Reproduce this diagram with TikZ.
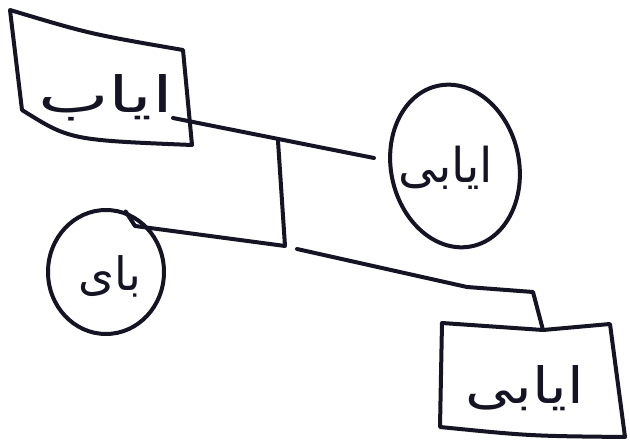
\documentclass[tikz,border=0pt]{standalone}
\usepackage{fontspec}
\newfontfamily\arabicfont[Script=Arabic]{DejaVu Sans}
\TeXXeTstate=1
\usetikzlibrary{shapes.geometric}
\definecolor{ink}{RGB}{20,20,36}
\begin{document}
\begin{tikzpicture}[x=1pt,y=-1pt,
  pen/.style={draw=ink,line width=4pt,line join=round,line cap=round},
  lbl/.style={text=ink,font=\arabicfont\fontsize{50}{54}\selectfont,inner sep=0pt},
  ring/.style={pen,ellipse,inner sep=0pt}]
\useasboundingbox (0,0) rectangle (630,446);
\fill[white] (0,0) rectangle (630,446);
% box A (top left)
\coordinate (a1) at (10,10);
\coordinate (a2) at (183,50);
\coordinate (a3) at (192,145);
\coordinate (a4) at (22,110);
\draw[pen] (a1) .. controls (90,34) .. (a2) -- (a3) .. controls (70,140) .. (a4) -- cycle;
\node[lbl,xscale=1.5] (tA) at (106,98) {\beginR ایاب\endR};
% circle B (right)
\node[ring,minimum width=128pt,minimum height=164pt,rotate=12] (B) at (455,166) {};
\node[lbl,font=\arabicfont\fontsize{48}{52}\selectfont] (tB) at (446,168) {\beginR ایابی\endR};
% circle C (bottom left)
\node[ring,minimum width=116pt,minimum height=124pt] (C) at (106,272) {};
\node[lbl,font=\arabicfont\fontsize{46}{50}\selectfont] (tC) at (110,276) {\beginR بای\endR};
% box D (bottom right)
\coordinate (d1) at (442,323);
\coordinate (d2) at (543,330);
\coordinate (d3) at (610,324);
\coordinate (d4) at (625,437);
\coordinate (d5) at (440,427);
\draw[pen] (d1) -- (d2) -- (d3) -- (d4) .. controls (530,436) .. (d5) -- cycle;
\node[lbl,xscale=1.2] (tD) at (525,388) {\beginR ایابی\endR};
% connectors
\coordinate (ab1) at (173,118);
\coordinate (abEnd) at (374,158);
\draw[pen] (ab1) -- (abEnd);
\coordinate (vTop) at (278,141);
\coordinate (junc) at (285,246);
\draw[pen] (vTop) -- (junc) -- (135,226) -- (C.72);
\coordinate (jr) at (297,249);
\coordinate (kink) at (533,292);
\draw[pen] (jr) -- (467,287) -- (kink) -- (d2);
\end{tikzpicture}
\end{document}
